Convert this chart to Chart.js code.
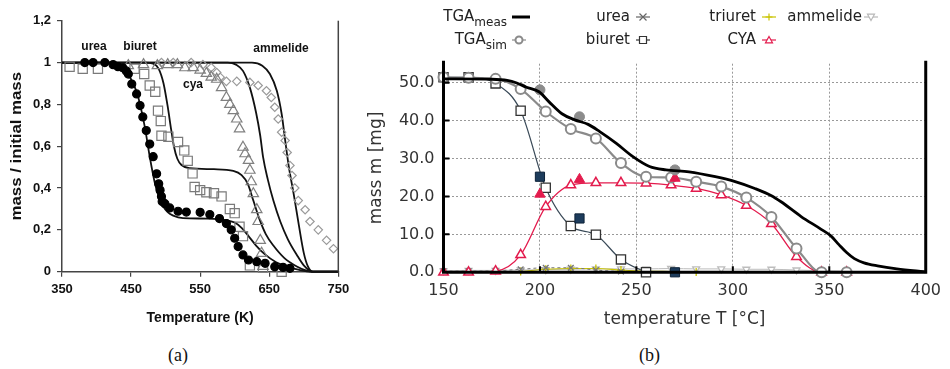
<!DOCTYPE html>
<html>
<head>
<meta charset="utf-8">
<script src="https://cdn.jsdelivr.net/npm/chart.js@4.4.1/dist/chart.umd.min.js"></script>
<style>
  html, body { margin: 0; padding: 0; background: #fff; width: 950px; height: 369px; overflow: hidden; }
  #wrapA { position: absolute; left: 0; top: 0; width: 355px; height: 330px; }
  #wrapB { position: absolute; left: 360px; top: 0; width: 590px; height: 330px; }
  .cap { position: absolute; top: 345px; font-family: "Liberation Serif", "DejaVu Serif", serif; font-size: 18px; color: #111; }
</style>
</head>
<body>
<div id="wrapA"><canvas id="chartA"></canvas></div>
<div id="wrapB"><canvas id="chartB"></canvas></div>
<div class="cap" style="left:168px">(a)</div>
<div class="cap" style="left:639px">(b)</div>

<script>
// ---------- panel (a): mass / initial mass vs temperature (K) ----------
// measured points [T, m/m0]
const ureaExp = [[383,1.0],[395,1.0],[412,1.0],[424,0.99],[431,0.98],[438,0.975],[443,0.96],[446,0.945],[451,0.897],[458,0.85],[463,0.794],[467,0.74],[472,0.675],[477,0.61],[482,0.55],[487,0.468],[490,0.42],[492,0.39],[494,0.36],[495,0.336],[499,0.325],[506,0.305],[518,0.289],[530,0.285],[550,0.284],[564,0.273],[578,0.254],[588,0.23],[595,0.20],[600,0.16],[605,0.12],[612,0.08],[620,0.056],[632,0.048],[644,0.04],[658,0.024],[670,0.021],[680,0.016]];
const biuretExp = [[361,0.98],[380,0.97],[402,0.97],[455,0.97],[469,0.945],[477,0.89],[485,0.86],[489,0.77],[493,0.72],[494,0.65],[504,0.645],[518,0.62],[527,0.58],[532,0.53],[539,0.47],[542,0.405],[550,0.39],[559,0.38],[570,0.375],[581,0.36],[593,0.30],[600,0.28],[607,0.215],[612,0.17],[622,0.03],[641,0.02],[668,0.0]];
const cyaExp = [[446,0.985],[468,0.99],[488,0.985],[503,0.99],[517,0.99],[528,0.975],[540,0.976],[550,0.964],[559,0.948],[566,0.93],[574,0.92],[581,0.88],[588,0.833],[593,0.80],[598,0.77],[603,0.73],[607,0.683],[612,0.595],[615,0.564],[620,0.532],[622,0.485],[624,0.43],[627,0.373],[632,0.297],[634,0.24],[637,0.15],[639,0.088],[641,0.025]];
const ammelideExp = [[494,1.0],[511,1.0],[537,1.0],[554,0.99],[566,0.976],[574,0.952],[579,0.93],[588,0.91],[603,0.91],[622,0.905],[634,0.89],[646,0.865],[653,0.833],[658,0.786],[663,0.73],[668,0.667],[673,0.627],[676,0.57],[680,0.508],[683,0.46],[687,0.40],[692,0.34],[702,0.296],[709,0.24],[721,0.2],[733,0.15],[743,0.11]];
// model curves
const ureaModel = [[350,1],[422,1],[432,0.99],[441,0.965],[450,0.92],[458,0.86],[463,0.8],[470,0.69],[477,0.55],[484,0.43],[490,0.36],[496,0.315],[503,0.285],[511,0.268],[525,0.256],[560,0.254],[590,0.245],[600,0.235],[610,0.21],[620,0.17],[631,0.125],[643,0.085],[660,0.045],[680,0.02],[695,0.008],[708,0],[750,0]];
const biuretModel = [[350,1],[470,1],[482,0.995],[490,0.97],[497,0.9],[503,0.79],[508,0.68],[512,0.6],[517,0.54],[523,0.51],[535,0.495],[570,0.49],[598,0.482],[610,0.462],[619,0.42],[627,0.34],[636,0.25],[645,0.18],[656,0.125],[672,0.065],[690,0.025],[704,0.005],[712,0],[750,0]];
const cyaModel = [[350,1],[590,1],[602,0.99],[612,0.96],[622,0.88],[631,0.76],[637,0.65],[641,0.55],[648,0.44],[656,0.34],[666,0.24],[677,0.155],[690,0.08],[700,0.03],[709,0.004],[714,0],[750,0]];
const ammelideModel = [[350,1],[625,1],[640,0.985],[651,0.945],[661,0.865],[668,0.754],[673,0.63],[678,0.51],[686,0.36],[693,0.22],[700,0.09],[706,0.025],[713,0],[750,0]];

// ---------- panel (b): mass m [mg] vs temperature T [°C] ----------
const simTemps   = [150, 163, 177, 190, 203, 216, 229, 242, 255, 268, 281, 294, 307, 320, 333, 346, 359];
const tgaSim     = [51.4, 51.3, 51.0, 48.3, 42.4, 37.8, 35.3, 28.8, 25.2, 25.0, 23.9, 22.6, 19.7, 14.6, 6.3, 0, 0];
const cyaSim     = [0, 0, 0.3, 4.6, 17.3, 23.0, 23.6, 23.6, 23.5, 23.0, 22.1, 20.4, 17.6, 12.8, 4.1, 0, 0];
const biuretSim  = [51.4, 51.4, 49.8, 42.6, 22.3, 12.2, 9.9, 3.4, 0, null, null, null, null, null, null, null, null];
const ureaSim    = [0.3, 0.3, 0.4, 0.8, 1.2, 1.2, 0.6, 0.2, 0.1, null, null, null, null, null, null, null, null];
const triuretSim = [null, null, null, 0.2, 0.8, 1.0, 1.0, 0.6, 0.3, 0.2, 0.1, null, null, null, null, null, null];
const ammelideSim = [0.4, 0.5, 0.5, 0.6, 0.7, 0.8, 0.9, 0.9, 0.9, 1.0, 0.9, 0.9, 0.8, 0.8, 0.6, 0.4, 0.3];
const measTemps  = [200, 220.5, 270];
const tgaMeasPts = [48.1, 41.0, 27.0];
const cyaMeas    = [20.6, 24.5, 24.8];
const biuretMeas = [25.2, 14.2, 0];
const tgaMeasT = [150, 175, 183, 188, 193, 199.5, 204.6, 211.4, 218, 225, 231, 239.6, 248.2, 256.8, 265.3, 277.3, 290.9, 301.2, 311.4, 320, 325, 335.4, 345.6, 350.8, 355, 359, 363, 368, 375, 385, 399, 400];
const tgaMeasM = [51.0, 50.9, 50.6, 49.9, 48.8, 47.6, 45.0, 41.8, 40.2, 39.0, 37.1, 34.0, 30.5, 27.9, 27.0, 26.5, 25.2, 23.9, 22.1, 20.2, 18.6, 14.7, 11.4, 9.6, 7.3, 5.2, 3.6, 2.5, 1.7, 0.9, 0.15, 0.1];

const pairs = arr => arr.map(p => ({x: p[0], y: p[1]}));
const zipXY = (xs, ys) => xs.map((x, i) => ({x: x, y: ys[i]}));

const fontA = "'Liberation Sans', Arial, sans-serif";
const fontB = "'DejaVu Sans', sans-serif";

// ---------- chart (a) ----------
function modelLine(pts) {
  return { data: pairs(pts), borderColor: '#111', borderWidth: 1.8, pointRadius: 0, cubicInterpolationMode: 'monotone', fill: false, clip: false };
}
function expPoints(pts, style, r, color, filled) {
  return { data: pairs(pts), showLine: false, pointStyle: style, pointRadius: r, borderWidth: 1.2,
           pointBorderColor: color, pointBackgroundColor: filled ? color : 'rgba(255,255,255,0)', clip: false };
}

const annotA = {
  id: 'annotA',
  afterDraw(chart) {
    const { ctx, chartArea: a } = chart;
    ctx.save();
    ctx.strokeStyle = '#444';
    ctx.lineWidth = 1.5;
    ctx.beginPath();
    ctx.moveTo(a.right, a.top);
    ctx.lineTo(a.right, a.bottom);
    ctx.stroke();
    ctx.fillStyle = '#111';
    ctx.font = 'bold 12px ' + fontA;
    ctx.textAlign = 'center';
    ctx.textBaseline = 'middle';
    ctx.fillText('urea', 94, 47);
    ctx.fillText('biuret', 140, 47);
    ctx.fillText('cya', 193, 85);
    ctx.fillText('ammelide', 281, 49);
    ctx.font = 'bold 14px ' + fontA;
    ctx.fillText('Temperature (K)', (a.left + a.right) / 2, 318);
    // the y title is stretched along its length like the source figure
    ctx.translate(17, (a.top + a.bottom) / 2);
    ctx.rotate(-Math.PI / 2);
    ctx.scale(1.2, 1);
    ctx.font = 'bold 14px ' + fontA;
    ctx.fillText('mass / initial mass', 0, 0);
    ctx.restore();
  }
};

new Chart(document.getElementById('chartA'), {
  type: 'line',
  data: {
    datasets: [
      expPoints(ureaExp, 'circle', 4, '#000', true),
      expPoints(biuretExp, 'rect', 6.5, '#7a7a7a', false),
      expPoints(cyaExp, 'triangle', 6, '#808080', false),
      expPoints(ammelideExp, 'rectRot', 4.2, '#9a9a9a', false),
      modelLine(ureaModel),
      modelLine(biuretModel),
      modelLine(cyaModel),
      modelLine(ammelideModel)
    ]
  },
  options: {
    responsive: true,
    maintainAspectRatio: false,
    animation: false,
    layout: { padding: { left: 12, right: 16.7, top: 20.7, bottom: 18.3 } },
    plugins: { legend: { display: false }, tooltip: { enabled: false } },
    scales: {
      x: {
        type: 'linear', min: 350, max: 750,
        ticks: { stepSize: 100, color: '#111', padding: 5, maxRotation: 0, font: { family: fontA, size: 13, weight: 'bold' } },
        grid: { drawOnChartArea: false, drawTicks: true, tickLength: 5, color: '#444', lineWidth: 1.2 },
        border: { color: '#444', width: 1.5 },
        afterFit: s => { s.height = 40; }
      },
      y: {
        type: 'linear', min: 0, max: 1.2,
        ticks: {
          stepSize: 0.2, color: '#111', padding: 6, font: { family: fontA, size: 13, weight: 'bold' },
          callback: v => (Math.round(v * 10) / 10).toString().replace('.', ',')
        },
        grid: { drawOnChartArea: false, drawTicks: true, tickLength: 5, color: '#444', lineWidth: 1.2 },
        border: { color: '#444', width: 1.5 },
        afterFit: s => { s.width = 50; }
      }
    }
  },
  plugins: [annotA]
});

// ---------- chart (b) ----------
const red = '#e31b4d';
const legendB = [
  { text: 'TGA', sub: 'meas', right: 147, row: 0, kind: 'thick', color: '#000', dx: 13 },
  { text: 'TGA', sub: 'sim', right: 147, row: 1, kind: 'circle', color: '#8a8a8a', dx: 12 },
  { text: 'urea', right: 270, row: 0, kind: 'x', color: '#666', dx: 13 },
  { text: 'biuret', right: 270, row: 1, kind: 'square', color: '#333', dx: 13 },
  { text: 'triuret', right: 396, row: 0, kind: 'plus', color: '#c9c400', dx: 13 },
  { text: 'CYA', right: 396, row: 1, kind: 'triangle', color: red, dx: 13 },
  { text: 'ammelide', right: 502, row: 0, kind: 'dtriangle', color: '#b8b8b8', dx: 9 }
];

function marker(ctx, kind, x, y, r) {
  ctx.beginPath();
  if (kind === 'circle') ctx.arc(x, y, r, 0, Math.PI * 2);
  else if (kind === 'square') ctx.rect(x - r, y - r, 2 * r, 2 * r);
  else if (kind === 'triangle') { ctx.moveTo(x, y - r); ctx.lineTo(x + r, y + r * 0.8); ctx.lineTo(x - r, y + r * 0.8); ctx.closePath(); }
  else if (kind === 'dtriangle') { ctx.moveTo(x, y + r); ctx.lineTo(x + r, y - r * 0.8); ctx.lineTo(x - r, y - r * 0.8); ctx.closePath(); }
  else if (kind === 'x') { ctx.moveTo(x - r, y - r); ctx.lineTo(x + r, y + r); ctx.moveTo(x + r, y - r); ctx.lineTo(x - r, y + r); }
  else if (kind === 'plus') { ctx.moveTo(x - r, y); ctx.lineTo(x + r, y); ctx.moveTo(x, y - r); ctx.lineTo(x, y + r); }
  ctx.fillStyle = '#fff';
  if (kind !== 'x' && kind !== 'plus') ctx.fill();
  ctx.stroke();
}

const frameB = {
  id: 'frameB',
  afterDraw(chart) {
    const { ctx, chartArea: a, scales } = chart;
    ctx.save();
    ctx.strokeStyle = '#000';
    ctx.lineWidth = 3;
    ctx.beginPath();
    ctx.moveTo(a.left, a.top - 3);
    ctx.lineTo(a.left, a.bottom);
    ctx.lineTo(a.right, a.bottom);
    ctx.lineTo(a.right, a.top - 3);
    ctx.stroke();
    ctx.lineWidth = 2;
    ctx.beginPath();
    [200, 250, 300, 350].forEach(v => {
      const px = scales.x.getPixelForValue(v);
      ctx.moveTo(px, a.bottom); ctx.lineTo(px, a.bottom - 6);
    });
    [10, 20, 30, 40, 50].forEach(v => {
      const py = scales.y.getPixelForValue(v);
      ctx.moveTo(a.left, py); ctx.lineTo(a.left + 6, py);
    });
    ctx.stroke();

    // axis titles
    ctx.fillStyle = '#333';
    ctx.font = '17px ' + fontB;
    ctx.textAlign = 'center';
    ctx.textBaseline = 'middle';
    ctx.fillText('temperature T [°C]', (a.left + a.right) / 2, 320);
    ctx.save();
    ctx.translate(17, (a.top + a.bottom) / 2);
    ctx.rotate(-Math.PI / 2);
    ctx.fillText('mass m [mg]', 0, 0);
    ctx.restore();

    // legend, two rows of right-aligned labels with a line/marker sample
    legendB.forEach(e => {
      const y = e.row === 0 ? 17 : 40;
      ctx.fillStyle = '#222';
      ctx.textAlign = 'right';
      ctx.textBaseline = 'middle';
      let xr = e.right;
      if (e.sub) {
        ctx.font = '12px ' + fontB;
        const sw = ctx.measureText(e.sub).width;
        ctx.fillText(e.sub, xr, y + 6);
        xr -= sw;
      }
      ctx.font = '15px ' + fontB;
      ctx.fillText(e.text, xr, y);
      const cx = e.right + e.dx;
      ctx.strokeStyle = e.color;
      if (e.kind === 'thick') {
        ctx.lineWidth = 3;
        ctx.beginPath(); ctx.moveTo(e.right + 5, y); ctx.lineTo(e.right + 23, y); ctx.stroke();
      } else {
        ctx.lineWidth = 1.2;
        ctx.beginPath(); ctx.moveTo(cx - 7, y); ctx.lineTo(cx + 7, y); ctx.stroke();
        ctx.lineWidth = e.kind === 'circle' ? 2 : 1.2;
        marker(ctx, e.kind, cx, y, 3.5);
      }
    });
    ctx.restore();
  }
};

function simSet(vals, color, width, style, r, opts) {
  return Object.assign({
    data: zipXY(simTemps, vals), borderColor: color, borderWidth: width, pointStyle: style, pointRadius: r,
    pointBorderColor: color, pointBackgroundColor: '#fff', pointBorderWidth: 1.3,
    cubicInterpolationMode: 'monotone', spanGaps: false, clip: false
  }, opts || {});
}
function measSet(vals, color, style, r, border) {
  return { data: zipXY(measTemps, vals), showLine: false, pointStyle: style, pointRadius: r,
           pointBackgroundColor: color, pointBorderColor: border, pointBorderWidth: 1, clip: false };
}

new Chart(document.getElementById('chartB'), {
  type: 'line',
  data: {
    datasets: [
      { data: zipXY(tgaMeasT, tgaMeasM), borderColor: '#000', borderWidth: 2.8, pointRadius: 0, cubicInterpolationMode: 'monotone', clip: false },
      measSet(tgaMeasPts, '#8c8c8c', 'circle', 5, '#8c8c8c'),
      measSet(cyaMeas, red, 'triangle', 6, red),
      measSet(biuretMeas, '#1d3c5c', 'rect', 6.5, '#0d2238'),
      simSet(tgaSim, '#8a8a8a', 2.2, 'circle', 5, { pointBorderWidth: 2 }),
      simSet(cyaSim, red, 1.3, 'triangle', 5.5, { pointBorderWidth: 1.5 }),
      simSet(biuretSim, '#3a4a58', 1.2, 'rect', 6.5, { pointBorderColor: '#333' }),
      simSet(ureaSim, '#777', 1, 'crossRot', 4, { borderDash: [3, 3] }),
      simSet(triuretSim, '#c9c400', 1.2, 'cross', 4),
      simSet(ammelideSim, '#bdbdbd', 1, 'triangle', 4, { pointRotation: 180 })
    ]
  },
  options: {
    responsive: true,
    maintainAspectRatio: false,
    animation: false,
    layout: { padding: { left: 23.5, right: 18, top: 63.7, bottom: 17.7 } },
    plugins: { legend: { display: false }, tooltip: { enabled: false } },
    scales: {
      x: {
        type: 'linear', min: 150, max: 400,
        ticks: { stepSize: 50, color: '#333', padding: 9, maxRotation: 0, font: { family: fontB, size: 16 } },
        grid: { drawTicks: false, lineWidth: 1, color: c => (c.tick && (c.tick.value === 150 || c.tick.value === 400)) ? 'rgba(0,0,0,0)' : '#999' },
        border: { display: false, dash: [2, 2] },
        afterFit: s => { s.height = 40; }
      },
      y: {
        type: 'linear', min: 0, max: 55,
        ticks: { stepSize: 10, includeBounds: false, color: '#333', padding: 9, font: { family: fontB, size: 16 }, callback: v => v.toFixed(1) },
        afterBuildTicks: s => { s.ticks = s.ticks.filter(t => t.value <= 50); },
        grid: { drawTicks: false, lineWidth: 1, color: c => (c.tick && c.tick.value === 0) ? 'rgba(0,0,0,0)' : '#999' },
        border: { display: false, dash: [2, 2] },
        afterFit: s => { s.width = 60; }
      }
    }
  },
  plugins: [frameB]
});
</script>
</body>
</html>
